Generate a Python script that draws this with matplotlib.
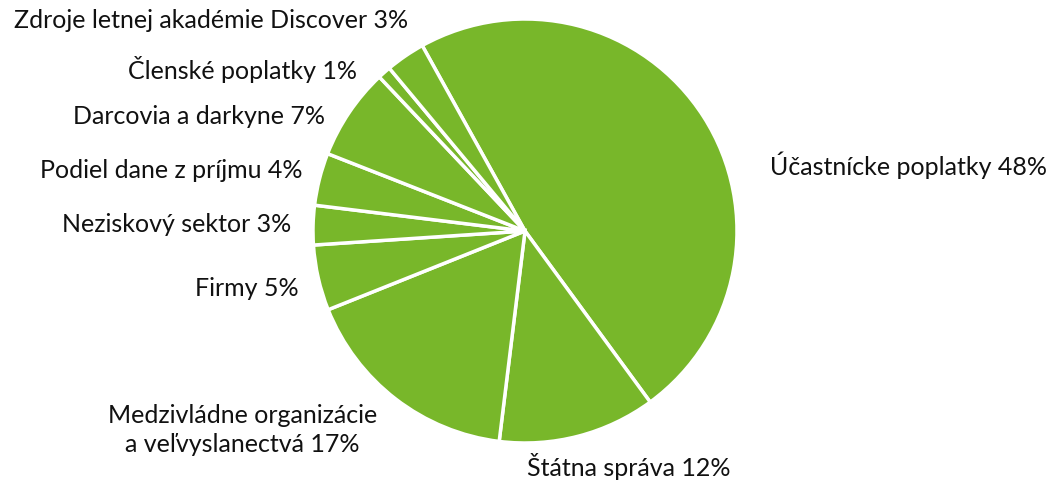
import matplotlib
matplotlib.use("Agg")
import matplotlib.pyplot as plt

# data
labels = [
    "Účastnícke poplatky 48%",
    "Štátna správa 12%",
    "Medzivládne organizácie\na veľvyslanectvá 17%",
    "Firmy 5%",
    "Neziskový sektor 3%",
    "Podiel dane z príjmu 4%",
    "Darcovia a darkyne 7%",
    "Členské poplatky 1%",
    "Zdroje letnej akadémie Discover 3%",
]
shares = [48, 12, 17, 5, 3, 4, 7, 1, 3]

# layout: label anchors in pixels (x, y from top) and alignment
label_px = [
    (770, 165, "left"),
    (527, 467, "left"),
    (377, 430, "right"),
    (299, 289, "right"),
    (291, 225, "right"),
    (302, 171, "right"),
    (325, 117, "right"),
    (357, 70, "right"),
    (408, 20, "right"),
]

W, H = 1052, 481
cx, cy, R = 525, 232, 212
green = "#78b72a"

plt.rcParams["font.family"] = ["Lato", "DejaVu Sans"]

fig = plt.figure(figsize=(W / 100, H / 100), dpi=100)
ax = fig.add_axes([0, 0, 1, 1])

ax.pie(
    shares,
    colors=[green] * len(shares),
    startangle=119,
    counterclock=False,
    radius=1,
    wedgeprops=dict(edgecolor="white", linewidth=2.5),
)

for text, (px, py, ha) in zip(labels, label_px):
    ax.text((px - cx) / R, (cy - py) / R, text, ha=ha, va="center",
            multialignment="center", fontsize=18, color="#111111",
            linespacing=1.3)

ax.set_xlim(-cx / R, (W - cx) / R)
ax.set_ylim(-(H - cy) / R, cy / R)
ax.set_aspect("equal")
ax.axis("off")

fig.savefig("out.png", dpi=100)
